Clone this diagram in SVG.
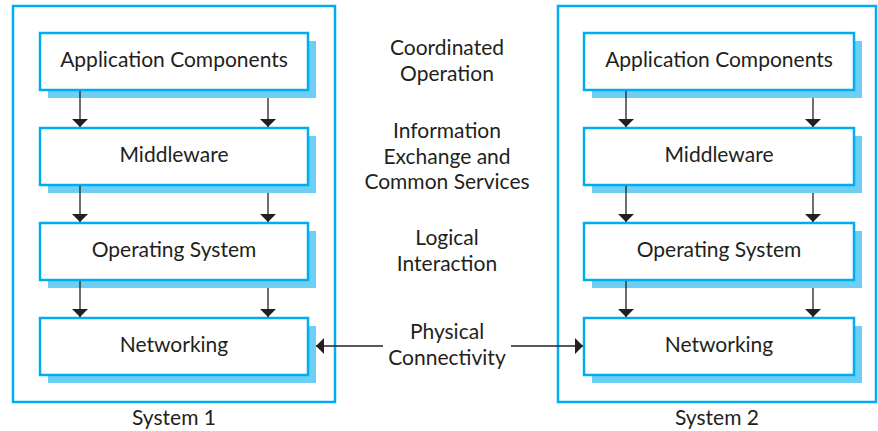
<svg xmlns="http://www.w3.org/2000/svg" width="878" height="431" viewBox="0 0 878 431">
<defs>
<marker id="ah" viewBox="0 0 10 10" refX="10" refY="5" markerWidth="8" markerHeight="16" markerUnits="userSpaceOnUse" orient="auto" preserveAspectRatio="none">
<path d="M0,0 L10,5 L0,10 Z" fill="#231f20"/>
</marker>
</defs>
<style>
.outer{fill:none;stroke:#00aeef;stroke-width:2.5}
.box{fill:#fff;stroke:#00aeef;stroke-width:2.5}
.sh{fill:#6dcff6}
text{font-family:Lato,"Open Sans",sans-serif;font-size:21px;fill:#231f20;text-anchor:middle}
.c{stroke:#231f20;stroke-width:1.3;fill:none;marker-end:url(#ah)}
</style>
<g id="system1">
<rect class="outer" x="13" y="6" width="322" height="396"/>
<text x="174" y="425">System 1</text>
</g>
<g id="system2">
<rect class="outer" x="558" y="6" width="318" height="396"/>
<text x="717" y="425">System 2</text>
</g>
<g id="app1"><rect class="sh" x="48" y="41" width="268" height="57"/><rect class="box" x="40" y="33" width="268" height="57"/><text x="174" y="67">Application Components</text></g>
<g id="mid1"><rect class="sh" x="48" y="136" width="268" height="57"/><rect class="box" x="40" y="128" width="268" height="57"/><text x="174" y="162">Middleware</text></g>
<g id="os1"><rect class="sh" x="48" y="231" width="268" height="57"/><rect class="box" x="40" y="223" width="268" height="57"/><text x="174" y="257">Operating System</text></g>
<g id="net1"><rect class="sh" x="48" y="326" width="268" height="57"/><rect class="box" x="40" y="318" width="268" height="57"/><text x="174" y="352">Networking</text></g>
<g id="app2"><rect class="sh" x="592" y="41" width="270" height="57"/><rect class="box" x="584" y="33" width="270" height="57"/><text x="719" y="67">Application Components</text></g>
<g id="mid2"><rect class="sh" x="592" y="136" width="270" height="57"/><rect class="box" x="584" y="128" width="270" height="57"/><text x="719" y="162">Middleware</text></g>
<g id="os2"><rect class="sh" x="592" y="231" width="270" height="57"/><rect class="box" x="584" y="223" width="270" height="57"/><text x="719" y="257">Operating System</text></g>
<g id="net2"><rect class="sh" x="592" y="326" width="270" height="57"/><rect class="box" x="584" y="318" width="270" height="57"/><text x="719" y="352">Networking</text></g>
<g id="labels">
<text x="447" y="55">Coordinated</text>
<text x="447" y="80.5">Operation</text>
<text x="447" y="138">Information</text>
<text x="447" y="163.5">Exchange and</text>
<text x="447" y="189">Common Services</text>
<text x="447" y="245">Logical</text>
<text x="447" y="270.5">Interaction</text>
<text x="447" y="339">Physical</text>
<text x="447" y="364.5">Connectivity</text>
</g>
<g id="connectors">
<line class="c" x1="80" y1="91" x2="80" y2="127"/>
<line class="c" x1="268" y1="98" x2="268" y2="127"/>
<line class="c" x1="80" y1="186" x2="80" y2="222"/>
<line class="c" x1="268" y1="193" x2="268" y2="222"/>
<line class="c" x1="80" y1="281" x2="80" y2="317"/>
<line class="c" x1="268" y1="288" x2="268" y2="317"/>
<line class="c" x1="626" y1="91" x2="626" y2="127"/>
<line class="c" x1="813" y1="98" x2="813" y2="127"/>
<line class="c" x1="626" y1="186" x2="626" y2="222"/>
<line class="c" x1="813" y1="193" x2="813" y2="222"/>
<line class="c" x1="626" y1="281" x2="626" y2="317"/>
<line class="c" x1="813" y1="288" x2="813" y2="317"/>
<line class="c" x1="383" y1="346" x2="316" y2="346"/>
<line class="c" x1="511" y1="346" x2="583" y2="346"/>
</g>
</svg>
